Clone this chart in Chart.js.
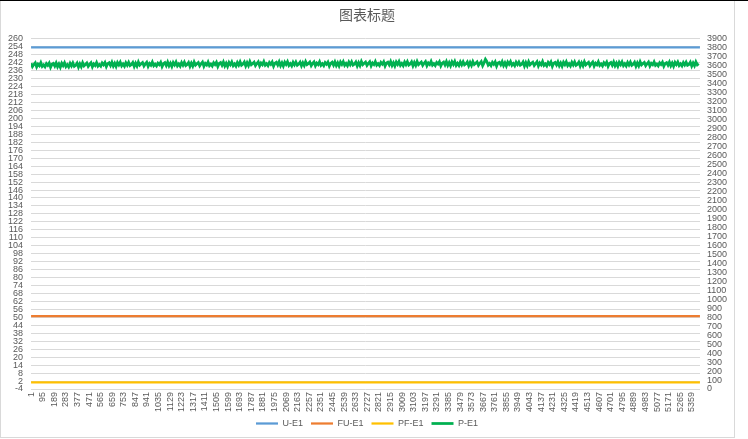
<!DOCTYPE html>
<html>
<head>
<meta charset="utf-8">
<script src="https://cdn.jsdelivr.net/npm/chart.js@4/dist/chart.umd.min.js"></script>
<style>
html,body{margin:0;padding:0;background:#fff;}
#wrap{width:748px;height:439px;position:relative;}
</style>
</head>
<body>
<div id="wrap"><canvas id="c" width="748" height="439"></canvas></div>
<script>
// ---- data ----
const seriesNames = ['U-E1', 'FU-E1', 'PF-E1', 'P-E1'];
const categoryCount = 5424;
const xTickLabels = [1,95,189,283,377,471,565,659,753,847,941,1035,1129,1223,1317,1411,1505,1599,1693,1787,1881,1975,2069,2163,2257,2351,2445,2539,2633,2727,2821,2915,3009,3103,3197,3291,3385,3479,3573,3667,3761,3855,3949,4043,4137,4231,4325,4419,4513,4607,4701,4795,4889,4983,5077,5171,5265,5359];
const leftTicks = [-4,2,8,14,20,26,32,38,44,50,56,62,68,74,80,86,92,98,104,110,116,122,128,134,140,146,152,158,164,170,176,182,188,194,200,206,212,218,224,230,236,242,248,254,260];
const rightTicks = [0,100,200,300,400,500,600,700,800,900,1000,1100,1200,1300,1400,1500,1600,1700,1800,1900,2000,2100,2200,2300,2400,2500,2600,2700,2800,2900,3000,3100,3200,3300,3400,3500,3600,3700,3800,3900];

// constant-looking series (left axis): [x, value]
const uE1 = [[1, 253.5], [2700, 253.5], [5424, 253.5]];
const fuE1 = [[1, 51], [2700, 51], [5424, 51]];
const pfE1 = [[1, 1], [2700, 1], [5424, 1]];

const pStep = 11.3;
const pE1 = [
3628,3590,3613,3632,3586,3618,3600,3634,3593,3610,
3588,3624,3604,3630,3583,3616,3626,3596,3632,3589,
3620,3584,3628,3602,3633,3591,3612,3587,3627,3598,
3631,3594,3606,3629,3585,3622,3589,3634,3599,3614,
3630,3592,3615,3634,3588,3620,3602,3636,3595,3612,
3595,3631,3611,3637,3590,3623,3633,3603,3639,3596,
3627,3591,3635,3609,3640,3598,3619,3594,3634,3605,
3638,3601,3613,3636,3592,3629,3596,3641,3606,3621,
3635,3597,3620,3639,3593,3625,3607,3641,3600,3617,
3597,3629,3612,3638,3591,3622,3634,3601,3640,3598,
3628,3592,3636,3610,3641,3599,3620,3595,3635,3606,
3639,3602,3614,3637,3593,3630,3597,3642,3607,3622,
3636,3598,3621,3640,3594,3626,3608,3642,3601,3618,
3597,3633,3613,3639,3592,3625,3635,3605,3641,3598,
3629,3593,3637,3611,3642,3600,3621,3596,3636,3607,
3643,3606,3618,3641,3597,3634,3601,3646,3611,3626,
3640,3602,3625,3644,3598,3630,3612,3646,3605,3622,
3600,3636,3616,3642,3595,3628,3638,3608,3644,3601,
3632,3596,3640,3614,3645,3603,3624,3599,3639,3610,
3642,3605,3619,3640,3598,3633,3602,3645,3612,3625,
3641,3601,3626,3643,3599,3629,3613,3645,3604,3623,
3601,3635,3617,3641,3596,3627,3639,3607,3643,3602,
3633,3597,3641,3615,3646,3604,3625,3600,3640,3611,
3644,3607,3619,3642,3598,3635,3602,3647,3612,3627,
3641,3603,3626,3645,3599,3631,3613,3647,3606,3623,
3602,3638,3618,3644,3597,3630,3640,3610,3646,3603,
3634,3598,3642,3616,3647,3605,3626,3601,3641,3612,
3645,3608,3620,3643,3599,3636,3603,3648,3613,3628,
3642,3604,3627,3646,3600,3632,3614,3648,3607,3624,
3603,3637,3619,3645,3598,3629,3641,3609,3647,3604,
3635,3599,3643,3615,3648,3604,3627,3602,3642,3611,
3644,3609,3621,3642,3600,3637,3604,3647,3614,3627,
3642,3604,3627,3646,3600,3632,3672,3648,3607,3624,
3601,3639,3617,3643,3596,3631,3639,3611,3645,3602,
3633,3597,3641,3617,3646,3606,3625,3600,3640,3613,
3641,3607,3617,3642,3596,3635,3600,3645,3610,3627,
3639,3603,3624,3645,3597,3631,3611,3647,3604,3621,
3599,3637,3615,3643,3594,3629,3637,3609,3643,3600,
3631,3595,3639,3613,3644,3602,3623,3598,3638,3609,
3642,3605,3617,3640,3596,3633,3600,3645,3610,3625,
3638,3600,3623,3642,3596,3628,3610,3644,3603,3620,
3598,3634,3614,3640,3593,3626,3636,3606,3642,3599,
3630,3594,3638,3612,3643,3601,3622,3597,3637,3608,
3641,3604,3616,3639,3595,3632,3599,3644,3609,3624,
3637,3601,3622,3641,3597,3627,3611,3643,3604,3619,
3599,3633,3615,3639,3594,3625,3635,3607,3641,3600,
3631,3595,3637,3613,3642,3602,3621,3598,3636,3609,
3640,3605,3615,3640,3596,3631,3600,3643,3610,3623
];

const colors = ['#5B9BD5', '#ED7D31', '#FFC000', '#00B050'];
const textColor = '#595959';
const gridColor = '#D9D9D9';
const fontFamily = '"Liberation Sans", Arial, sans-serif';

// ---- build ----
const toXY = arr => arr.map(p => ({x: p[0], y: p[1]}));
const pData = pE1.map((v, i) => ({x: 1 + i * pStep, y: v}));

const framePlugin = {
  id: 'frame',
  beforeDraw(chart) {
    const ctx = chart.ctx;
    ctx.save();
    ctx.fillStyle = '#fff';
    ctx.fillRect(0, 0, chart.width, chart.height);
    ctx.strokeStyle = gridColor;
    ctx.lineWidth = 1;
    ctx.strokeRect(0.5, 0.5, 734, 437);
    ctx.fillStyle = '#000';
    ctx.fillRect(0, 0, chart.width, 1);
    ctx.restore();
  }
};

new Chart(document.getElementById('c'), {
  type: 'line',
  data: {
    datasets: [
      {label: seriesNames[0], data: toXY(uE1), borderColor: colors[0], backgroundColor: colors[0], borderWidth: 2.25, pointRadius: 0, yAxisID: 'y'},
      {label: seriesNames[1], data: toXY(fuE1), borderColor: colors[1], backgroundColor: colors[1], borderWidth: 2.25, pointRadius: 0, yAxisID: 'y'},
      {label: seriesNames[2], data: toXY(pfE1), borderColor: colors[2], backgroundColor: colors[2], borderWidth: 2.25, pointRadius: 0, yAxisID: 'y'},
      {label: seriesNames[3], data: pData, borderColor: colors[3], backgroundColor: colors[3], borderWidth: 2.75, pointRadius: 0, yAxisID: 'y1'}
    ]
  },
  options: {
    responsive: false,
    animation: false,
    devicePixelRatio: 1,
    layout: {padding: {left: 0, right: 14, top: 0, bottom: 1}},
    plugins: {
      title: {
        display: true,
        text: '图表标题',
        color: textColor,
        font: {family: '"Noto Sans CJK SC", sans-serif', size: 14, weight: 'normal'},
        padding: {top: 6, bottom: 16}
      },
      legend: {
        position: 'bottom',
        labels: {
          color: textColor,
          font: {family: fontFamily, size: 9},
          usePointStyle: true,
          pointStyle: 'line',
          pointStyleWidth: 22,
          boxHeight: 9,
          padding: 8
        }
      },
      tooltip: {enabled: false}
    },
    scales: {
      x: {
        type: 'linear',
        min: 0.5,
        max: categoryCount + 0.5,
        grid: {display: false, drawTicks: false},
        border: {display: false},
        afterBuildTicks(scale) { scale.ticks = xTickLabels.map(v => ({value: v})); },
        afterFit(scale) {
          scale.height = 22;
          // let the rotated labels extend below the (fixed) scale box
          scale._computeLabelArea = function () { return undefined; };
        },
        ticks: {
          autoSkip: false,
          minRotation: 90,
          maxRotation: 90,
          color: textColor,
          font: {family: fontFamily, size: 9},
          padding: 3,
          callback: v => String(v)
        }
      },
      y: {
        position: 'left',
        min: -4,
        max: 260,
        afterBuildTicks(scale) { scale.ticks = leftTicks.map(v => ({value: v})); },
        afterFit(scale) { scale.width = 31; },
        grid: {color: gridColor, drawTicks: false, lineWidth: 1},
        border: {display: false},
        ticks: {
          autoSkip: false,
          color: textColor,
          font: {family: fontFamily, size: 9},
          padding: 8,
          callback: v => String(v)
        }
      },
      y1: {
        position: 'right',
        min: 0,
        max: 3900,
        afterBuildTicks(scale) { scale.ticks = rightTicks.map(v => ({value: v})); },
        afterFit(scale) { scale.width = 34; },
        grid: {display: false, drawTicks: false},
        border: {display: false},
        ticks: {
          autoSkip: false,
          color: textColor,
          font: {family: fontFamily, size: 9},
          padding: 7,
          callback: v => String(v)
        }
      }
    }
  },
  plugins: [framePlugin]
});
</script>
</body>
</html>
